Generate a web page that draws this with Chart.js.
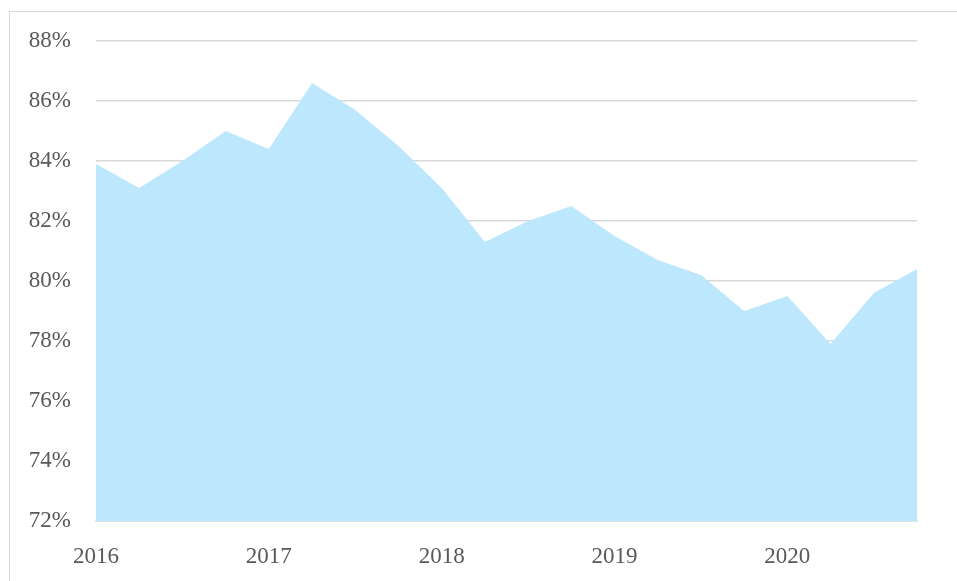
<!DOCTYPE html>
<html lang="en">

<head>
    <meta charset="UTF-8">
    <title>Quarterly share 2016-2020</title>
    <script src="https://cdn.jsdelivr.net/npm/chart.js"></script>
    <style>
        html, body { margin: 0; padding: 0; background: #fff; }
        .frame {
            position: absolute;
            left: 9px;
            top: 11px;
            width: 1000px;
            height: 700px;
            border-top: 1.5px solid #d9d9d9;
            border-left: 1.5px solid #d9d9d9;
        }
        .chart-container {
            position: absolute;
            left: 0;
            top: 0;
            width: 957px;
            height: 581px;
        }
    </style>
</head>

<body>
    <div class="frame"></div>
    <div class="chart-container">
        <canvas id="areaChart" width="957" height="581"></canvas>
    </div>

    <script>
        // quarters 2016 Q1 .. 2020 Q4, only the first quarter carries a year label
        const quarterLabels = ['2016', '', '', '', '2017', '', '', '', '2018', '', '', '',
            '2019', '', '', '', '2020', '', '', ''];
        const shareValues = [83.9, 83.1, 84.0, 85.0, 84.4, 86.6, 85.7, 84.5, 83.1, 81.3,
            82.0, 82.5, 81.5, 80.7, 80.2, 79.0, 79.5, 77.9, 79.6, 80.4];
        const yMin = 72;
        const yMax = 88;
        const yStep = 2;

        const fontFamily = "'Palatino Linotype', 'Book Antiqua', Palatino, 'Liberation Serif', serif";
        const textColor = '#595959';

        const ctx = document.getElementById('areaChart').getContext('2d');
        const chart = new Chart(ctx, {
            type: 'line',
            data: {
                labels: quarterLabels,
                datasets: [{
                    data: shareValues,
                    fill: 'start',
                    backgroundColor: '#bde7fd',
                    borderWidth: 0,
                    pointRadius: 0,
                    tension: 0
                }]
            },
            options: {
                responsive: false,
                animation: false,
                layout: {
                    padding: { top: 41, right: 40, left: 0, bottom: 0 }
                },
                plugins: {
                    legend: { display: false },
                    tooltip: { enabled: false }
                },
                scales: {
                    x: {
                        z: 1, // bottom line sits over the fill like in the original
                        grid: { display: false, drawTicks: false },
                        border: { display: true, color: '#d9d9d9', width: 1.5 },
                        ticks: {
                            autoSkip: false,
                            maxRotation: 0,
                            padding: 22,
                            color: textColor,
                            font: { family: fontFamily, size: 23 }
                        },
                        afterFit: (scale) => { scale.height = 60; }
                    },
                    y: {
                        min: yMin,
                        max: yMax,
                        grid: { color: '#d9d9d9', lineWidth: 1.5, drawTicks: false },
                        border: { display: false },
                        ticks: {
                            stepSize: yStep,
                            padding: 25,
                            color: textColor,
                            font: { family: fontFamily, size: 23 },
                            callback: (v) => v + '%'
                        },
                        afterFit: (scale) => { scale.width = 96; }
                    }
                }
            }
        });
    </script>
</body>

</html>
